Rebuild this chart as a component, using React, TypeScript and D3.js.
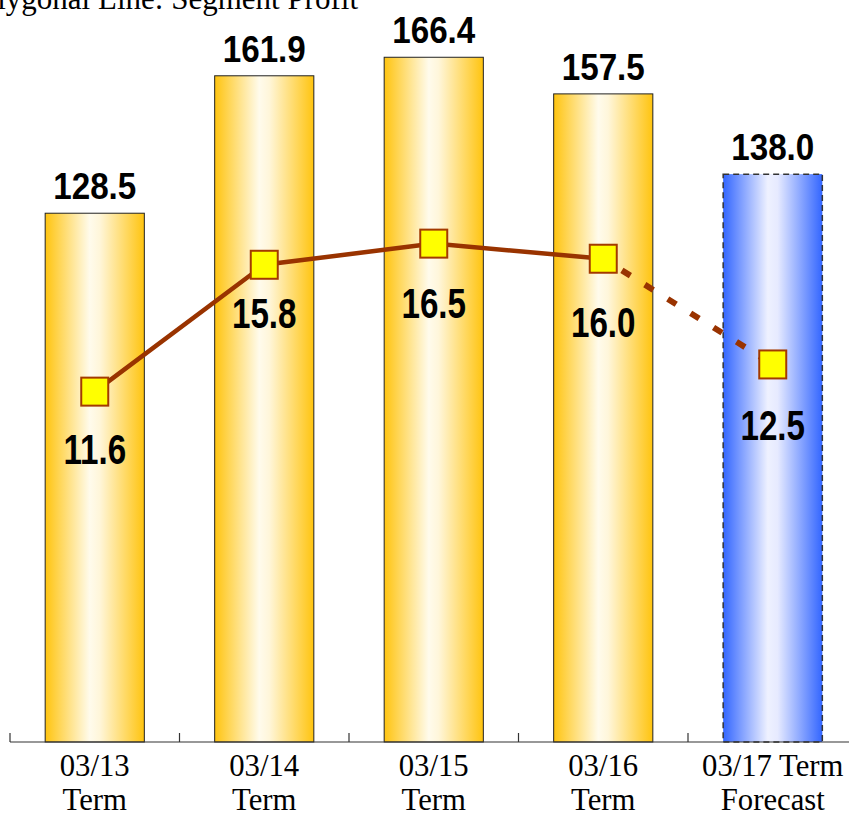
import React from "react";
import * as d3 from "d3";

const categories = ["03/13|Term", "03/14|Term", "03/15|Term", "03/16|Term", "03/17 Term|Forecast"];
const salesValues = [128.5, 161.9, 166.4, 157.5, 138.0];
const profitValues = [11.6, 15.8, 16.5, 16.0, 12.5];
const forecastFlags = [false, false, false, false, true];
const titleText = "Polygonal Line: Segment Profit";

// layout only: vertical distance from marker centre to the profit label baseline
const profitLabelDy = [72, 63, 74, 78, 76];

const W = 849;
const H = 819;
const SANS = "'Liberation Sans', Arial, sans-serif";
const SERIF = "'Liberation Serif', 'Times New Roman', serif";

export default function App() {
  const x = d3.scaleBand<string>().domain(categories).range([10, 857.5]).paddingInner(0.415).paddingOuter(0.2075);
  const y = d3.scaleLinear().domain([0, 180]).range([742, 1.3]);
  const y2 = d3.scaleLinear().domain([0, 24.5]).range([742, 2]);
  const bw = x.bandwidth();
  const cx = (c: string) => (x(c) as number) + bw / 2;
  const step = x.step();

  const pts = categories.map((c, i) => [cx(c), y2(profitValues[i])] as [number, number]);
  const line = d3.line();
  const solidPts = pts.slice(0, 4);
  const dashedPts = pts.slice(3, 5);

  return (
    <svg width={W} height={H} style={{ position: "absolute", left: 0, top: 0, background: "#fff" }}>
      <defs>
        <linearGradient id="gold" x1="0" x2="1" y1="0" y2="0">
          <stop offset="0" stopColor="#FFC40F" />
          <stop offset="0.45" stopColor="#FFFBEC" />
          <stop offset="0.55" stopColor="#FFF6DA" />
          <stop offset="1" stopColor="#FFC40F" />
        </linearGradient>
        <linearGradient id="blue" x1="0" x2="1" y1="0" y2="0">
          <stop offset="0" stopColor="#3366FF" />
          <stop offset="0.45" stopColor="#EEF1FF" />
          <stop offset="0.55" stopColor="#E6EAFF" />
          <stop offset="1" stopColor="#3366FF" />
        </linearGradient>
      </defs>
      <text x={358} y={9} textAnchor="end" fontFamily={SERIF} fontSize={31} fill="#000">
        {titleText}
      </text>
      {categories.map((c, i) => (
        <g key={c}>
          <rect
            x={x(c)}
            y={y(salesValues[i])}
            width={bw}
            height={y(0) - y(salesValues[i])}
            fill={forecastFlags[i] ? "url(#blue)" : "url(#gold)"}
            stroke={forecastFlags[i] ? "#333" : "#222"}
            strokeWidth={forecastFlags[i] ? 1.5 : 1}
            strokeDasharray={forecastFlags[i] ? "6 4" : undefined}
          />
          <g transform={`translate(${cx(c)},${y(salesValues[i]) - 14}) scale(0.91,1)`}>
            <text x={0} y={0} textAnchor="middle" fontFamily={SANS} fontWeight="bold" fontSize={36.5} fill="#000">
              {salesValues[i].toFixed(1)}
            </text>
          </g>
        </g>
      ))}
      <line x1={10} x2={849} y1={742} y2={742} stroke="#333" strokeWidth={1.2} />
      {categories.map((c) => (
        <line
          key={"t" + c}
          x1={(x(c) as number) - (step - bw) / 2}
          x2={(x(c) as number) - (step - bw) / 2}
          y1={742}
          y2={733}
          stroke="#333"
          strokeWidth={1.2}
        />
      ))}
      {categories.map((c) => {
        const [l1, l2] = c.split("|");
        return (
          <g key={"l" + c} transform={`translate(${cx(c)},0) scale(0.96,1)`}>
            <text textAnchor="middle" fontFamily={SERIF} fontSize={32} fill="#000">
              <tspan x={0} y={776}>{l1}</tspan>
              <tspan x={0} y={810}>{l2}</tspan>
            </text>
          </g>
        );
      })}
      <path d={line(solidPts) || ""} fill="none" stroke="#993300" strokeWidth={4.5} />
      <path
        d={line(dashedPts) || ""}
        fill="none"
        stroke="#993300"
        strokeWidth={6}
        strokeDasharray="10 17"
        strokeDashoffset={-22}
      />
      {pts.map(([px, py], i) => (
        <g key={"p" + i}>
          <rect x={px - 13.5} y={py - 14} width={27} height={28} fill="#FFFF00" stroke="#A33A00" strokeWidth={2} />
          <g transform={`translate(${px},${py + profitLabelDy[i]}) scale(0.79,1)`}>
            <text x={0} y={0} textAnchor="middle" fontFamily={SANS} fontWeight="bold" fontSize={42} fill="#000">
              {profitValues[i].toFixed(1)}
            </text>
          </g>
        </g>
      ))}
    </svg>
  );
}
